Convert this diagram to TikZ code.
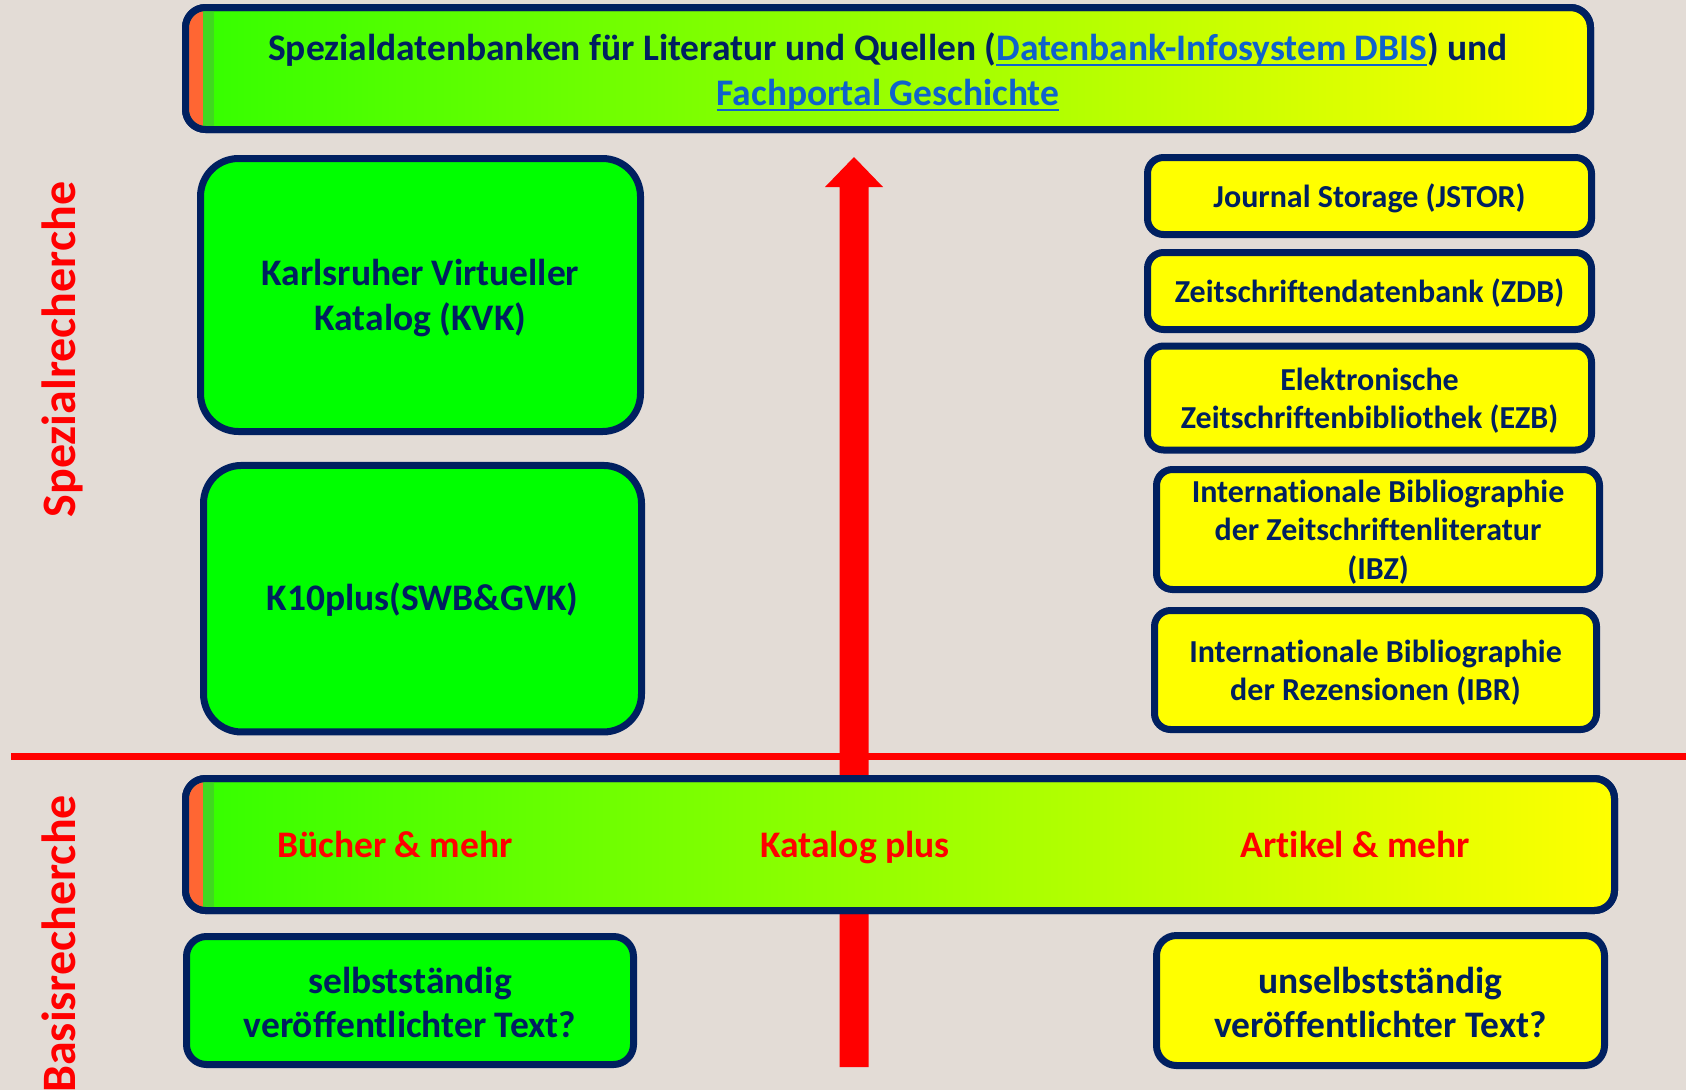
\documentclass[tikz,border=0pt]{standalone}
\usepackage{fontspec}
\setmainfont{Carlito}[Ligatures=NoCommon]
\usetikzlibrary{calc}
\definecolor{bg}{HTML}{E3DCD6}
\definecolor{navy}{HTML}{002060}
\definecolor{linkblue}{HTML}{0F62CC}
\definecolor{boxgreen}{HTML}{00FF00}
\definecolor{boxyellow}{HTML}{FFFF00}
\definecolor{stripeorange}{HTML}{FF6633}
\definecolor{stripegreen}{HTML}{40D820}
\definecolor{gradleft}{HTML}{33FF00}
\definecolor{gradmid}{HTML}{99FF00}
\definecolor{gradright}{HTML}{FFFF00}
\definecolor{accentred}{HTML}{FF0000}
\newcommand{\lnk}[1]{{\color{linkblue}\setbox0=\hbox{#1}\rlap{\rule[-6pt]{\wd0}{2.5pt}}\box0}}
\begin{document}
\begin{tikzpicture}[x=1pt,y=-1pt,
 every node/.style={inner sep=0pt, outer sep=0pt},
 frame/.style={draw=navy, line width=7pt},
 bigbox/.style={frame, fill=boxgreen, rounded corners=38pt},
 greenbox/.style={frame, fill=boxgreen, rounded corners=20pt},
 yellowbox/.style={frame, fill=boxyellow, rounded corners=20pt},
 smallbox/.style={frame, fill=boxyellow, rounded corners=16pt},
 gradbar/.style={frame, rounded corners=20pt, left color=gradleft, right color=gradright, middle color=gradmid},
 bigtext/.style={align=center, text=navy, font=\bfseries\fontsize{37.5}{45}\selectfont},
 smalltext/.style={align=center, text=navy, font=\bfseries\fontsize{32}{38.5}\selectfont},
 redlabel/.style={text=accentred, font=\bfseries\fontsize{37.5}{45}\selectfont},
 sidelabel/.style={text=accentred, font=\bfseries\fontsize{48}{56}\selectfont, rotate=90},
 border/.style={draw=navy, line width=7pt, rounded corners=20pt},
]
\useasboundingbox (0,0) rectangle (1686,1090);
\fill[bg] (0,0) rectangle (1686,1090);

% separator line
\coordinate (lineL) at (11,756.5);
\coordinate (lineR) at (1686,756.5);
\draw[accentred, line width=7pt] (lineL) -- (lineR);

% big arrow
\coordinate (abot) at (854,1067);
\coordinate (atip) at (854,157);
\fill[accentred] ($(abot)+(-14.5,0)$) -- ($(atip)+(-14.5,30)$) -- ($(atip)+(-29,30)$) -- (atip)
  -- ($(atip)+(29,30)$) -- ($(atip)+(14.5,30)$) -- ($(abot)+(14.5,0)$) -- cycle;

% side labels
\node[sidelabel, anchor=base] (spez) at (75,349.5) {Spezialrecherche};
\node[sidelabel, anchor=base east] (basis) at (75,795) {Basisrecherche};

% top bar
\node[gradbar, minimum width=1405pt, minimum height=122pt] (top) at (888,68.5) {};
\begin{scope}
 \clip[rounded corners=16.5pt] ($(top.north west)+(3.5,3.5)$) rectangle ($(top.south east)+(-3.5,-3.5)$);
 \fill[stripeorange] (top.north west) rectangle ($(top.south west)+(17.5,0)$);
 \fill[stripegreen] ($(top.north west)+(17.5,0)$) rectangle ($(top.south west)+(28.5,0)$);
\end{scope}
\draw[border] (top.north west) rectangle (top.south east);
\node[bigtext] (toptext) at ($(top.center)+(0,3.5)$)
 {Spezialdatenbanken für Literatur und Quellen (\lnk{Datenbank-Infosystem DBIS}) und\\\lnk{Fachportal Geschichte}};

% left green boxes
\node[bigbox, minimum width=440pt, minimum height=273pt] (kvk) at (420.5,295) {};
\node[bigtext] (kvktext) at ($(kvk.center)+(0,3)$) {Karlsruher Virtueller\\Katalog (KVK)};
\node[bigbox, minimum width=438pt, minimum height=266.5pt] (k10) at (422.5,598.7) {};
\node[bigtext] (k10text) at ($(k10.center)+(0,1)$) {K10plus(SWB\&GVK)};

% right yellow boxes
\node[smallbox, minimum width=444pt, minimum height=77pt] (jstor) at (1369.5,196) {};
\node[smalltext] (jstortext) at ($(jstor.center)+(0,2)$) {Journal Storage (JSTOR)};
\node[smallbox, minimum width=444pt, minimum height=77pt] (zdb) at (1369.5,291) {};
\node[smalltext] (zdbtext) at ($(zdb.center)+(0,2)$) {Zeitschriftendatenbank (ZDB)};
\node[smallbox, minimum width=444pt, minimum height=104pt] (ezb) at (1369.5,398) {};
\node[smalltext] (ezbtext) at ($(ezb.center)+(0,2.5)$) {Elektronische\\Zeitschriftenbibliothek (EZB)};
\node[smallbox, minimum width=443pt, minimum height=120pt] (ibz) at (1378,529.5) {};
\node[smalltext] (ibztext) at ($(ibz.center)+(0,2.5)$) {Internationale Bibliographie\\der Zeitschriftenliteratur\\(IBZ)};
\node[smallbox, minimum width=442pt, minimum height=119pt] (ibr) at (1375.5,670) {};
\node[smalltext] (ibrtext) at ($(ibr.center)+(0,2.5)$) {Internationale Bibliographie\\der Rezensionen (IBR)};

% Katalog plus bar
\node[gradbar, minimum width=1429pt, minimum height=132pt] (kat) at (900,844.5) {};
\begin{scope}
 \clip[rounded corners=16.5pt] ($(kat.north west)+(3.5,3.5)$) rectangle ($(kat.south east)+(-3.5,-3.5)$);
 \fill[stripeorange] (kat.north west) rectangle ($(kat.south west)+(17.5,0)$);
 \fill[stripegreen] ($(kat.north west)+(17.5,0)$) rectangle ($(kat.south west)+(28.5,0)$);
\end{scope}
\draw[border] (kat.north west) rectangle (kat.south east);
\node[redlabel, anchor=base] (buecher) at (395,857) {Bücher \& mehr};
\node[redlabel, anchor=base] (katplus) at (855,857) {Katalog plus};
\node[redlabel, anchor=base] (artikel) at (1355.5,857) {Artikel \& mehr};

% bottom boxes
\node[greenbox, minimum width=447pt, minimum height=128pt] (selbst) at (410,1000.5) {};
\node[bigtext, font=\bfseries\fontsize{37.5}{44}\selectfont] (selbsttext) at ($(selbst.center)+(0,1.5)$) {selbstständig\\veröffentlichter Text?};
\node[yellowbox, minimum width=448pt, minimum height=130pt] (unselbst) at (1380.5,1000.5) {};
\node[bigtext, font=\bfseries\fontsize{37.5}{44}\selectfont] (unselbsttext) at ($(unselbst.center)+(0,1.5)$) {unselbstständig\\veröffentlichter Text?};
\end{tikzpicture}
\end{document}
